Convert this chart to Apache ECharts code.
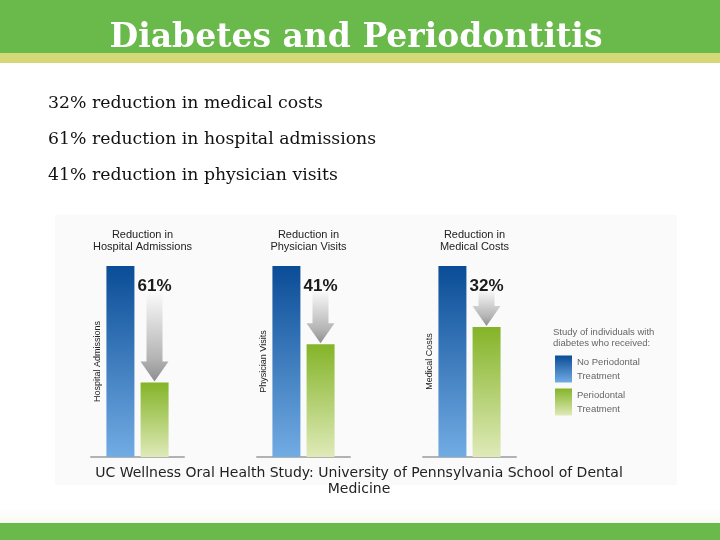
<!DOCTYPE html>
<html><head><meta charset="utf-8">
<script src="https://cdn.jsdelivr.net/npm/echarts@6/dist/echarts.min.js"></script>
<style>html,body{margin:0;padding:0;background:#fff}#c{width:720px;height:540px}</style>
</head><body><div id="c"></div>
<script>
const slideTitle = 'Diabetes and Periodontitis';
const bulletLines = ['32% reduction in medical costs', '61% reduction in hospital admissions', '41% reduction in physician visits'];
const panelTitles = ['Reduction in\nHospital Admissions', 'Reduction in\nPhysician Visits', 'Reduction in\nMedical Costs'];
const axisNames = ['Hospital Admissions', 'Physician Visits', 'Medical Costs'];
const categories = ['Patients'];
const seriesNames = ['No Periodontal\nTreatment', 'Periodontal\nTreatment'];
const noTreatment = [100, 100, 100];
const withTreatment = [39, 59, 68];
const reductionLabels = ['61%', '41%', '32%'];
const legendHeading = 'Study of individuals with\ndiabetes who received:';
const caption = 'UC Wellness Oral Health Study: University of Pennsylvania School of Dental\nMedicine';

const G = echarts.graphic.LinearGradient;
const blueFill = new G(0, 0, 0, 1, [{offset: 0, color: '#0a4c96'}, {offset: 1, color: '#72ace4'}]);
const greenFill = new G(0, 0, 0, 1, [{offset: 0, color: '#84b428'}, {offset: 1, color: '#dfeab8'}]);
const arrowFill = new G(0, 0, 0, 1, [{offset: 0, color: '#ffffff'}, {offset: 0.75, color: '#b4b4b4'}, {offset: 1, color: '#8e8e8e'}]);
const sans = 'Liberation Sans';

const gridLefts = [91, 257, 423];
const grids = [], xAxes = [], yAxes = [], series = [];
const titles = [];

titles.push({text: slideTitle, left: 351, top: 17, textAlign: 'center',
  textStyle: {color: '#ffffff', fontFamily: 'DejaVu Serif', fontWeight: 'bold', fontSize: 33}});
bulletLines.forEach((t, i) => titles.push({text: t, left: 43, top: 90 + i * 36,
  textStyle: {color: '#111', fontFamily: 'DejaVu Serif', fontWeight: 'normal', fontSize: 17.3}}));

gridLefts.forEach((gl, i) => {
  grids.push({left: gl, top: 266, width: 93, height: 191});
  xAxes.push({type: 'category', gridIndex: i, data: categories,
    axisLine: {lineStyle: {color: '#b2b2b2', width: 2}}, axisTick: {show: false}, axisLabel: {show: false}});
  yAxes.push({type: 'value', gridIndex: i, min: 0, max: 100, splitLine: {show: false},
    axisLine: {show: false}, axisTick: {show: false}, axisLabel: {show: false},
    name: axisNames[i], nameLocation: 'middle', nameGap: -11, nameRotate: 90,
    nameTextStyle: {color: '#222', fontFamily: sans, fontSize: 9}});
  titles.push({text: panelTitles[i], left: gl + 46.5, top: 224, textAlign: 'center',
    textStyle: {color: '#222', fontFamily: sans, fontWeight: 'normal', fontSize: 11, lineHeight: 12}});
  series.push({type: 'bar', name: seriesNames[0], xAxisIndex: i, yAxisIndex: i, data: [noTreatment[i]],
    barWidth: 28, barGap: '22%', itemStyle: {color: blueFill}});
  series.push({type: 'bar', name: seriesNames[1], xAxisIndex: i, yAxisIndex: i, data: [withTreatment[i]],
    barWidth: 28, barGap: '22%', itemStyle: {color: greenFill}});
  const lab = reductionLabels[i];
  series.push({type: 'custom', xAxisIndex: i, yAxisIndex: i, silent: true, z: 5,
    data: [[0, noTreatment[i], withTreatment[i]]],
    encode: {x: 0, y: 1},
    renderItem: function (params, api) {
      const top = api.coord([api.value(0), api.value(1)]);
      const tip = api.coord([api.value(0), api.value(2)]);
      const cx = top[0] + 17;
      const y0 = top[1] + 22, y1 = tip[1] - 1;
      const hh = 20, sw = 8, hw = 14;
      const pts = [[cx - sw, y0], [cx + sw, y0], [cx + sw, y1 - hh], [cx + hw, y1 - hh], [cx, y1], [cx - hw, y1 - hh], [cx - sw, y1 - hh]];
      return {type: 'group', children: [
        {type: 'polygon', shape: {points: pts}, style: {fill: arrowFill}},
        {type: 'text', style: {text: lab, x: cx, y: top[1] + 20, align: 'center', verticalAlign: 'middle',
          font: 'bold 17px "Liberation Sans"', fill: '#1b1b1b'}}
      ]};
    }});
});

titles.push({text: legendHeading, left: 548, top: 322,
  textStyle: {color: '#666', fontFamily: sans, fontWeight: 'normal', fontSize: 9.5, lineHeight: 11}});
titles.push({text: caption, left: 354, top: 460, textAlign: 'center',
  textStyle: {color: '#222', fontFamily: 'DejaVu Sans', fontWeight: 'normal', fontSize: 14, lineHeight: 16}});

const chart = echarts.init(document.getElementById('c'), null, {renderer: 'canvas'});
chart.setOption({
  animation: false,
  backgroundColor: '#ffffff',
  graphic: [
    {type: 'rect', shape: {x: 0, y: 0, width: 720, height: 53}, style: {fill: '#6ab94b'}, z: -10},
    {type: 'rect', shape: {x: 0, y: 53, width: 720, height: 10}, style: {fill: '#d4d877'}, z: -10},
    {type: 'rect', shape: {x: 55, y: 215, width: 622, height: 270}, style: {fill: '#fafafa'}, z: -10},
    {type: 'rect', shape: {x: 0, y: 508, width: 720, height: 15}, style: {fill: new G(0, 0, 0, 1, [{offset: 0, color: '#ffffff'}, {offset: 1, color: '#f6faf2'}])}, z: -10},
    {type: 'rect', shape: {x: 0, y: 523, width: 720, height: 17}, style: {fill: '#6ab94b'}, z: -10}
  ],
  title: titles,
  legend: {data: seriesNames, left: 550, top: 350, orient: 'vertical', icon: 'rect',
    itemWidth: 17, itemHeight: 27, itemGap: 5, selectedMode: false,
    textStyle: {color: '#666', fontFamily: sans, fontSize: 9.5, lineHeight: 14}},
  grid: grids, xAxis: xAxes, yAxis: yAxes, series: series
});
</script></body></html>
